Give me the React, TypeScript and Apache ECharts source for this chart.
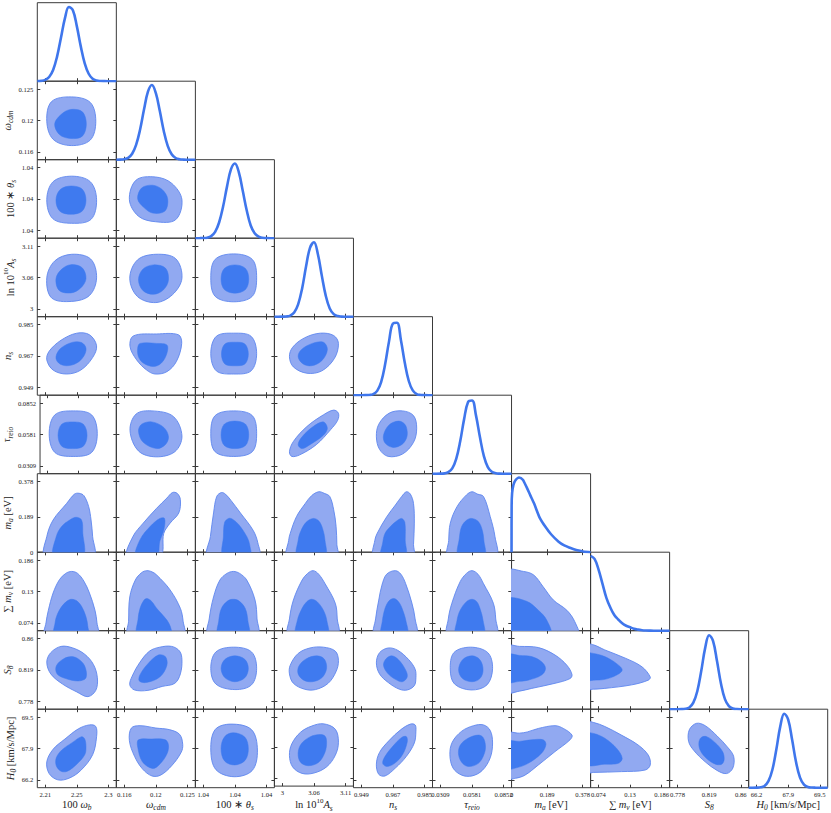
import React, { useEffect, useRef } from "react";
import * as echarts from "echarts";

// ---------------- parameters ----------------
const PARAM_NAMES = [
  "{r|100 }{i|ω}{sub|b}",
  "{i|ω}{sub|cdm}",
  "{r|100 ∗ }{i|θ}{sub|s}",
  "{r|ln 10}{sup|10}{i|A}{sub|s}",
  "{i|n}{sub|s}",
  "{i|τ}{sub|reio}",
  "{i|m}{sub|a}{r| [eV]}",
  "{r|∑ }{i|m}{sub|ν}{r| [eV]}",
  "{i|S}{sub|8}",
  "{i|H}{sub|0}{r| [km/s/Mpc]}",
];
const AXIS_MIN = [2.19625, 0.1149, 1.04115, 2.98725, 0.9445, 0.0241, 0, 0.06, 0.76775, 65.7875];
const AXIS_MAX = [2.30875, 0.1259, 1.04265, 3.12475, 0.9895, 0.0921, 0.42, 0.2, 0.87025, 69.9125];
const TICK_VALUES = [
  [2.2075, 2.2525, 2.2975],
  [0.116, 0.1204, 0.1248],
  [1.0413, 1.0419, 1.0425],
  [3.001, 3.056, 3.111],
  [0.949, 0.967, 0.985],
  [0.0309, 0.0581, 0.0853],
  [0, 0.189, 0.378],
  [0.074, 0.13, 0.186],
  [0.778, 0.819, 0.86],
  [66.2, 67.85, 69.5],
];
const TICK_LABELS = [
  ["2.21", "2.25", "2.3"],
  ["0.116", "0.12", "0.125"],
  ["1.04", "1.04", "1.04"],
  ["3", "3.06", "3.11"],
  ["0.949", "0.967", "0.985"],
  ["0.0309", "0.0581", "0.0852"],
  ["0", "0.189", "0.378"],
  ["0.074", "0.13", "0.186"],
  ["0.778", "0.819", "0.86"],
  ["66.2", "67.9", "69.5"],
];

// ---------------- 1D marginal densities (21 evenly spaced samples over each axis range) ----------------
const D_OMEGA_B = [0.0008, 0.0042, 0.017, 0.056, 0.15, 0.329, 0.585, 0.844, 0.992, 0.948, 0.737, 0.466, 0.239, 0.1, 0.034, 0.0094, 0.0021, 0.0004, 0, 0, 0];
const D_OMEGA_CDM = [0.0002, 0.0014, 0.0067, 0.025, 0.079, 0.198, 0.4, 0.67, 0.91, 1.0, 0.89, 0.65, 0.385, 0.185, 0.073, 0.023, 0.006, 0.0013, 0.0002, 0, 0];
const D_THETA_S = [0, 0.0003, 0.0017, 0.0075, 0.028, 0.085, 0.21, 0.42, 0.69, 0.92, 1.0, 0.88, 0.63, 0.37, 0.17, 0.067, 0.021, 0.0053, 0.001, 0, 0];
const D_LN_AS = [0, 0, 0.0005, 0.003, 0.015, 0.056, 0.165, 0.375, 0.67, 0.92, 0.995, 0.835, 0.546, 0.278, 0.11, 0.034, 0.008, 0.0015, 0.0002, 0, 0];
const D_NS = [0, 0, 0, 0.0004, 0.0027, 0.014, 0.058, 0.176, 0.41, 0.72, 0.96, 0.97, 0.74, 0.43, 0.19, 0.064, 0.016, 0.003, 0.0004, 0, 0];
const D_TAU = [0, 0, 0.0007, 0.0045, 0.02, 0.071, 0.198, 0.43, 0.73, 0.96, 0.98, 0.78, 0.49, 0.235, 0.089, 0.026, 0.006, 0.001, 0, 0, 0];
const D_SUM_MNU = [1.0, 0.96, 0.82, 0.63, 0.44, 0.31, 0.21, 0.15, 0.1, 0.066, 0.045, 0.025, 0.014, 0.007, 0.003, 0.001, 0, 0, 0, 0, 0];
const D_S8 = [0, 0, 0, 0.0008, 0.005, 0.024, 0.087, 0.24, 0.51, 0.82, 0.99, 0.91, 0.64, 0.34, 0.135, 0.041, 0.009, 0.0017, 0, 0, 0];
const D_H0 = [0, 0, 0.0008, 0.005, 0.024, 0.087, 0.24, 0.51, 0.82, 0.99, 0.91, 0.64, 0.34, 0.135, 0.041, 0.009, 0.0017, 0.0003, 0, 0, 0];
// m_a marginal (sampled at explicit m_a values, eV)
const MA_X = [0, 0.0005, 0.003, 0.01, 0.02, 0.04, 0.06, 0.08, 0.1, 0.12, 0.15, 0.18, 0.21, 0.25, 0.28, 0.31, 0.35, 0.38, 0.42];
const MA_D = [0, 0.62, 0.79, 0.9, 0.96, 1.0, 0.97, 0.87, 0.76, 0.65, 0.46, 0.34, 0.24, 0.14, 0.09, 0.06, 0.025, 0.01, 0];

// ---------------- 2D credible contours: [outer, inner], vertices as (x, y) in units of each
// parameter's plotted range (0 = axis minimum, 1 = axis maximum) ----------------
const C_OMEGA_CDM = [
  [[0.74, 0.49, 0.67, 0.73, 0.43, 0.8, 0.18, 0.74, 0.12, 0.49, 0.2, 0.26, 0.43, 0.18, 0.67, 0.25],
   [0.62, 0.455, 0.57, 0.61, 0.42, 0.64, 0.3, 0.575, 0.22, 0.455, 0.28, 0.32, 0.42, 0.27, 0.57, 0.3]],
];
const C_THETA_S = [
  [[0.75, 0.49, 0.67, 0.72, 0.435, 0.79, 0.2, 0.72, 0.12, 0.49, 0.195, 0.25, 0.435, 0.19, 0.68, 0.24],
   [0.616, 0.485, 0.567, 0.626, 0.426, 0.665, 0.29, 0.62, 0.236, 0.485, 0.285, 0.344, 0.426, 0.305, 0.567, 0.344]],
  [[0.83, 0.49, 0.7, 0.7, 0.494, 0.78, 0.25, 0.74, 0.165, 0.49, 0.28, 0.28, 0.494, 0.21, 0.75, 0.235],
   [0.65, 0.5, 0.58, 0.62, 0.46, 0.675, 0.32, 0.64, 0.27, 0.5, 0.35, 0.39, 0.46, 0.32, 0.615, 0.345]],
];
const C_LN_AS = [
  [[0.75, 0.495, 0.675, 0.735, 0.435, 0.795, 0.22, 0.71, 0.12, 0.495, 0.18, 0.24, 0.435, 0.195, 0.66, 0.27],
   [0.616, 0.483, 0.567, 0.624, 0.426, 0.663, 0.306, 0.603, 0.236, 0.483, 0.277, 0.334, 0.426, 0.303, 0.546, 0.363]],
  [[0.83, 0.49, 0.75, 0.74, 0.5, 0.795, 0.267, 0.723, 0.17, 0.49, 0.267, 0.257, 0.5, 0.18, 0.71, 0.28],
   [0.66, 0.47, 0.62, 0.62, 0.47, 0.66, 0.335, 0.605, 0.28, 0.47, 0.335, 0.335, 0.47, 0.285, 0.597, 0.343]],
  [[0.775, 0.495, 0.72, 0.73, 0.485, 0.8, 0.25, 0.73, 0.195, 0.495, 0.25, 0.26, 0.485, 0.19, 0.72, 0.26],
   [0.675, 0.48, 0.634, 0.614, 0.5, 0.66, 0.366, 0.614, 0.325, 0.48, 0.366, 0.346, 0.5, 0.3, 0.634, 0.346]],
];
const C_NS = [
  [[0.75, 0.63, 0.66, 0.77, 0.5, 0.79, 0.3, 0.7, 0.15, 0.56, 0.12, 0.45, 0.2, 0.32, 0.37, 0.27, 0.55, 0.32, 0.7, 0.48],
   [0.616, 0.6, 0.56, 0.67, 0.45, 0.675, 0.3, 0.6, 0.236, 0.49, 0.27, 0.41, 0.37, 0.375, 0.5, 0.41, 0.59, 0.5]],
  [[0.827, 0.66, 0.785, 0.77, 0.51, 0.78, 0.215, 0.755, 0.173, 0.62, 0.257, 0.45, 0.384, 0.32, 0.49, 0.27, 0.64, 0.3, 0.76, 0.43],
   [0.64, 0.64, 0.51, 0.66, 0.3, 0.66, 0.27, 0.6, 0.28, 0.49, 0.34, 0.41, 0.47, 0.365, 0.57, 0.41, 0.64, 0.535]],
  [[0.775, 0.53, 0.705, 0.75, 0.485, 0.79, 0.265, 0.75, 0.195, 0.53, 0.265, 0.31, 0.485, 0.27, 0.705, 0.31],
   [0.67, 0.525, 0.627, 0.652, 0.5, 0.675, 0.373, 0.652, 0.33, 0.525, 0.373, 0.398, 0.5, 0.375, 0.627, 0.398]],
  [[0.81, 0.66, 0.75, 0.76, 0.58, 0.79, 0.38, 0.73, 0.23, 0.61, 0.19, 0.49, 0.24, 0.36, 0.41, 0.28, 0.6, 0.31, 0.76, 0.47],
   [0.67, 0.58, 0.62, 0.675, 0.48, 0.66, 0.34, 0.58, 0.3, 0.49, 0.36, 0.4, 0.47, 0.375, 0.6, 0.44]],
];
const C_TAU = [
  [[0.75, 0.51, 0.675, 0.75, 0.435, 0.8, 0.195, 0.75, 0.12, 0.51, 0.195, 0.27, 0.435, 0.22, 0.675, 0.27],
   [0.616, 0.49, 0.567, 0.63, 0.426, 0.66, 0.285, 0.63, 0.236, 0.49, 0.285, 0.35, 0.426, 0.32, 0.567, 0.35]],
  [[0.83, 0.48, 0.72, 0.73, 0.45, 0.8, 0.25, 0.76, 0.173, 0.55, 0.28, 0.29, 0.5, 0.215, 0.74, 0.28],
   [0.66, 0.47, 0.6, 0.59, 0.45, 0.66, 0.32, 0.63, 0.28, 0.54, 0.34, 0.4, 0.51, 0.32, 0.62, 0.37]],
  [[0.775, 0.51, 0.72, 0.74, 0.485, 0.8, 0.25, 0.74, 0.195, 0.51, 0.25, 0.28, 0.485, 0.22, 0.72, 0.28],
   [0.675, 0.495, 0.634, 0.63, 0.5, 0.67, 0.366, 0.63, 0.325, 0.495, 0.366, 0.36, 0.5, 0.32, 0.634, 0.36]],
  [[0.81, 0.77, 0.75, 0.81, 0.62, 0.75, 0.41, 0.6, 0.24, 0.41, 0.19, 0.28, 0.22, 0.22, 0.32, 0.24, 0.53, 0.37, 0.71, 0.56, 0.8, 0.68],
   [0.67, 0.58, 0.62, 0.66, 0.49, 0.6, 0.35, 0.47, 0.3, 0.37, 0.35, 0.32, 0.45, 0.37, 0.62, 0.49]],
  [[0.8, 0.58, 0.76, 0.74, 0.62, 0.8, 0.45, 0.77, 0.32, 0.63, 0.29, 0.47, 0.33, 0.31, 0.44, 0.22, 0.62, 0.25, 0.76, 0.4],
   [0.68, 0.54, 0.65, 0.63, 0.57, 0.67, 0.45, 0.62, 0.38, 0.49, 0.4, 0.39, 0.5, 0.335, 0.61, 0.37, 0.67, 0.45]],
];
const C_MA = [
  [[0.1, -0.05, 0.12, 0.2, 0.2, 0.41, 0.37, 0.62, 0.47, 0.74, 0.53, 0.75, 0.59, 0.72, 0.65, 0.58, 0.68, 0.41, 0.7, 0.2, 0.71, -0.05],
   [0.21, -0.05, 0.24, 0.2, 0.31, 0.33, 0.41, 0.41, 0.49, 0.445, 0.56, 0.41, 0.575, 0.25, 0.575, -0.05]],
  [[0.14, -0.05, 0.21, 0.2, 0.34, 0.37, 0.51, 0.56, 0.64, 0.69, 0.71, 0.76, 0.77, 0.75, 0.81, 0.67, 0.79, 0.5, 0.68, 0.37, 0.6, 0.24, 0.555, -0.05],
   [0.25, -0.05, 0.3, 0.16, 0.43, 0.33, 0.55, 0.43, 0.61, 0.43, 0.6, 0.28, 0.55, 0.14, 0.51, -0.05]],
  [[0.16, -0.05, 0.19, 0.2, 0.23, 0.5, 0.27, 0.71, 0.33, 0.76, 0.38, 0.74, 0.45, 0.66, 0.57, 0.5, 0.73, 0.28, 0.79, 0.12, 0.8, -0.05],
   [0.355, -0.05, 0.355, 0.2, 0.37, 0.38, 0.42, 0.43, 0.47, 0.42, 0.55, 0.35, 0.65, 0.2, 0.69, 0.08, 0.69, -0.05]],
  [[0.165, -0.05, 0.18, 0.15, 0.2, 0.24, 0.28, 0.455, 0.39, 0.62, 0.47, 0.72, 0.56, 0.77, 0.63, 0.75, 0.7, 0.71, 0.75, 0.54, 0.78, 0.33, 0.79, 0.1, 0.79, -0.05],
   [0.29, -0.05, 0.3, 0.15, 0.33, 0.26, 0.4, 0.38, 0.49, 0.43, 0.56, 0.4, 0.61, 0.3, 0.64, 0.15, 0.64, -0.05]],
  [[0.26, -0.05, 0.27, 0.15, 0.3, 0.24, 0.42, 0.45, 0.53, 0.6, 0.61, 0.71, 0.67, 0.77, 0.72, 0.74, 0.76, 0.62, 0.77, 0.37, 0.76, 0.1, 0.755, -0.05],
   [0.355, -0.05, 0.37, 0.12, 0.4, 0.24, 0.47, 0.33, 0.55, 0.4, 0.61, 0.43, 0.65, 0.38, 0.655, 0.15, 0.655, -0.05]],
  [[0.2, -0.05, 0.205, 0.15, 0.225, 0.37, 0.31, 0.58, 0.43, 0.73, 0.5, 0.77, 0.57, 0.74, 0.645, 0.71, 0.73, 0.455, 0.79, 0.2, 0.8, -0.05],
   [0.33, -0.05, 0.34, 0.18, 0.37, 0.33, 0.435, 0.41, 0.5, 0.43, 0.58, 0.39, 0.63, 0.28, 0.65, 0.15, 0.655, -0.05]],
];
const C_SUM_MNU = [
  [[0.1, -0.05, 0.11, 0.1, 0.14, 0.26, 0.2, 0.48, 0.28, 0.65, 0.36, 0.73, 0.435, 0.755, 0.51, 0.73, 0.59, 0.63, 0.66, 0.48, 0.73, 0.26, 0.755, 0.1, 0.76, -0.05],
   [0.22, -0.05, 0.225, 0.1, 0.25, 0.2, 0.31, 0.31, 0.38, 0.38, 0.435, 0.4, 0.5, 0.38, 0.56, 0.31, 0.615, 0.18, 0.64, 0.05, 0.64, -0.05]],
  [[0.15, -0.05, 0.155, 0.12, 0.17, 0.43, 0.24, 0.645, 0.32, 0.74, 0.385, 0.765, 0.45, 0.75, 0.51, 0.71, 0.68, 0.52, 0.81, 0.285, 0.845, 0.12, 0.85, -0.05],
   [0.27, -0.05, 0.275, 0.15, 0.3, 0.285, 0.35, 0.39, 0.39, 0.41, 0.45, 0.37, 0.51, 0.285, 0.64, 0.135, 0.69, 0.03, 0.69, -0.05]],
  [[0.165, -0.05, 0.175, 0.15, 0.23, 0.43, 0.31, 0.645, 0.4, 0.73, 0.48, 0.755, 0.56, 0.73, 0.65, 0.645, 0.755, 0.39, 0.78, 0.15, 0.785, -0.05],
   [0.29, -0.05, 0.295, 0.12, 0.33, 0.285, 0.41, 0.38, 0.48, 0.4, 0.55, 0.38, 0.63, 0.285, 0.665, 0.12, 0.67, -0.05]],
  [[0.18, -0.05, 0.19, 0.15, 0.24, 0.39, 0.35, 0.645, 0.42, 0.73, 0.49, 0.765, 0.56, 0.72, 0.64, 0.6, 0.77, 0.35, 0.795, 0.15, 0.8, -0.05],
   [0.28, -0.05, 0.29, 0.13, 0.35, 0.285, 0.41, 0.37, 0.47, 0.4, 0.54, 0.37, 0.62, 0.26, 0.665, 0.12, 0.67, -0.05]],
  [[0.27, -0.05, 0.28, 0.15, 0.32, 0.39, 0.36, 0.58, 0.42, 0.72, 0.53, 0.765, 0.6, 0.72, 0.66, 0.6, 0.74, 0.35, 0.78, 0.15, 0.79, -0.05],
   [0.36, -0.05, 0.365, 0.12, 0.4, 0.285, 0.45, 0.38, 0.51, 0.41, 0.57, 0.37, 0.615, 0.285, 0.665, 0.12, 0.675, -0.05]],
  [[0.195, -0.05, 0.2, 0.15, 0.245, 0.35, 0.35, 0.625, 0.43, 0.73, 0.5, 0.765, 0.575, 0.72, 0.645, 0.6, 0.77, 0.35, 0.8, 0.15, 0.805, -0.05],
   [0.3, -0.05, 0.31, 0.13, 0.35, 0.26, 0.43, 0.37, 0.5, 0.4, 0.56, 0.37, 0.6, 0.285, 0.64, 0.13, 0.645, -0.05]],
  [[-0.05, -0.05, -0.05, 0.76, 0.15, 0.755, 0.28, 0.71, 0.4, 0.56, 0.53, 0.39, 0.7, 0.26, 0.8, 0.115, 0.835, -0.05],
   [-0.05, -0.05, -0.05, 0.4, 0.19, 0.375, 0.34, 0.26, 0.445, 0.135, 0.49, -0.05]],
];
const C_S8 = [
  [[0.76, 0.4, 0.71, 0.57, 0.6, 0.7, 0.45, 0.78, 0.3, 0.8, 0.17, 0.72, 0.12, 0.6, 0.17, 0.45, 0.32, 0.32, 0.5, 0.22, 0.64, 0.16, 0.74, 0.24],
   [0.616, 0.4, 0.6, 0.55, 0.52, 0.64, 0.435, 0.67, 0.33, 0.64, 0.24, 0.55, 0.25, 0.45, 0.36, 0.39, 0.52, 0.36]],
  [[0.83, 0.63, 0.8, 0.74, 0.7, 0.8, 0.55, 0.79, 0.42, 0.74, 0.3, 0.6, 0.2, 0.42, 0.17, 0.31, 0.23, 0.245, 0.4, 0.24, 0.58, 0.29, 0.74, 0.33, 0.81, 0.45],
   [0.64, 0.56, 0.62, 0.67, 0.53, 0.69, 0.4, 0.58, 0.3, 0.44, 0.29, 0.36, 0.38, 0.34, 0.55, 0.41]],
  [[0.775, 0.52, 0.71, 0.73, 0.485, 0.79, 0.26, 0.73, 0.195, 0.52, 0.26, 0.32, 0.5, 0.25, 0.71, 0.31],
   [0.67, 0.52, 0.625, 0.635, 0.5, 0.68, 0.375, 0.635, 0.325, 0.52, 0.375, 0.4, 0.5, 0.35, 0.625, 0.4]],
  [[0.81, 0.62, 0.77, 0.74, 0.62, 0.79, 0.45, 0.78, 0.3, 0.71, 0.2, 0.56, 0.19, 0.45, 0.24, 0.33, 0.38, 0.255, 0.52, 0.25, 0.68, 0.33, 0.78, 0.48],
   [0.66, 0.52, 0.63, 0.64, 0.535, 0.68, 0.4, 0.64, 0.31, 0.55, 0.3, 0.45, 0.37, 0.37, 0.48, 0.35, 0.6, 0.4]],
  [[0.79, 0.4, 0.78, 0.51, 0.7, 0.63, 0.56, 0.75, 0.44, 0.78, 0.33, 0.72, 0.29, 0.59, 0.33, 0.45, 0.44, 0.34, 0.58, 0.255, 0.68, 0.245, 0.77, 0.3],
   [0.68, 0.41, 0.66, 0.5, 0.57, 0.63, 0.485, 0.68, 0.41, 0.64, 0.38, 0.56, 0.43, 0.46, 0.53, 0.38, 0.62, 0.35]],
  [[0.76, 0.52, 0.7, 0.72, 0.48, 0.79, 0.27, 0.72, 0.225, 0.5, 0.28, 0.32, 0.49, 0.245, 0.69, 0.31],
   [0.64, 0.5, 0.6, 0.63, 0.5, 0.68, 0.38, 0.63, 0.33, 0.5, 0.38, 0.39, 0.5, 0.35, 0.6, 0.39]],
  [[-0.05, 0.8, 0.1, 0.8, 0.34, 0.785, 0.55, 0.69, 0.7, 0.56, 0.765, 0.44, 0.74, 0.39, 0.55, 0.33, 0.255, 0.265, 0.1, 0.23, -0.05, 0.22],
   [-0.05, 0.69, 0.1, 0.685, 0.255, 0.67, 0.38, 0.605, 0.43, 0.52, 0.38, 0.435, 0.21, 0.37, 0.1, 0.355, -0.05, 0.35]],
  [[-0.05, 0.82, 0.036, 0.82, 0.18, 0.755, 0.44, 0.65, 0.65, 0.54, 0.755, 0.41, 0.73, 0.37, 0.52, 0.31, 0.18, 0.265, 0.036, 0.255, -0.05, 0.255],
   [-0.05, 0.71, 0.036, 0.71, 0.18, 0.67, 0.33, 0.58, 0.4, 0.5, 0.33, 0.435, 0.18, 0.38, 0.036, 0.37, -0.05, 0.37]],
];
const C_H0 = [
  [[0.75, 0.65, 0.74, 0.78, 0.66, 0.8, 0.52, 0.75, 0.35, 0.62, 0.2, 0.49, 0.12, 0.33, 0.15, 0.18, 0.26, 0.1, 0.4, 0.12, 0.55, 0.22, 0.7, 0.42],
   [0.616, 0.52, 0.6, 0.62, 0.56, 0.65, 0.45, 0.58, 0.31, 0.48, 0.24, 0.38, 0.24, 0.28, 0.3, 0.21, 0.38, 0.21, 0.5, 0.3, 0.6, 0.42]],
  [[0.84, 0.55, 0.8, 0.68, 0.67, 0.74, 0.5, 0.76, 0.3, 0.79, 0.19, 0.76, 0.165, 0.6, 0.23, 0.4, 0.33, 0.24, 0.45, 0.15, 0.56, 0.16, 0.7, 0.28, 0.82, 0.45],
   [0.66, 0.54, 0.62, 0.61, 0.45, 0.62, 0.28, 0.61, 0.27, 0.52, 0.33, 0.33, 0.46, 0.245, 0.55, 0.3, 0.64, 0.43]],
  [[0.785, 0.48, 0.71, 0.74, 0.45, 0.81, 0.25, 0.74, 0.195, 0.48, 0.26, 0.23, 0.49, 0.14, 0.72, 0.22],
   [0.67, 0.5, 0.625, 0.645, 0.48, 0.7, 0.37, 0.65, 0.325, 0.5, 0.37, 0.34, 0.5, 0.29, 0.63, 0.35]],
  [[0.81, 0.57, 0.77, 0.74, 0.62, 0.81, 0.47, 0.78, 0.33, 0.7, 0.22, 0.55, 0.19, 0.4, 0.23, 0.25, 0.35, 0.165, 0.5, 0.17, 0.66, 0.25, 0.77, 0.4],
   [0.66, 0.57, 0.64, 0.65, 0.57, 0.67, 0.45, 0.64, 0.34, 0.55, 0.3, 0.43, 0.33, 0.31, 0.43, 0.265, 0.56, 0.31, 0.64, 0.44]],
  [[0.79, 0.72, 0.78, 0.8, 0.72, 0.81, 0.6, 0.74, 0.45, 0.6, 0.33, 0.45, 0.29, 0.3, 0.32, 0.17, 0.4, 0.15, 0.53, 0.25, 0.67, 0.4, 0.77, 0.57],
   [0.68, 0.58, 0.67, 0.65, 0.61, 0.64, 0.5, 0.53, 0.4, 0.4, 0.37, 0.31, 0.42, 0.27, 0.52, 0.31, 0.62, 0.42]],
  [[0.76, 0.57, 0.73, 0.73, 0.645, 0.8, 0.52, 0.79, 0.37, 0.72, 0.25, 0.58, 0.22, 0.42, 0.26, 0.25, 0.37, 0.16, 0.5, 0.15, 0.63, 0.22, 0.73, 0.38],
   [0.67, 0.53, 0.64, 0.64, 0.58, 0.67, 0.45, 0.63, 0.35, 0.54, 0.33, 0.42, 0.38, 0.31, 0.46, 0.27, 0.58, 0.31, 0.65, 0.42]],
  [[-0.05, 0.69, 0.1, 0.695, 0.2, 0.71, 0.34, 0.755, 0.55, 0.79, 0.655, 0.755, 0.765, 0.67, 0.74, 0.61, 0.55, 0.46, 0.34, 0.29, 0.17, 0.16, 0.05, 0.12, -0.05, 0.12],
   [-0.05, 0.585, 0.1, 0.59, 0.255, 0.61, 0.4, 0.61, 0.435, 0.55, 0.38, 0.44, 0.21, 0.31, 0.05, 0.25, -0.05, 0.245]],
  [[-0.05, 0.835, 0.04, 0.83, 0.18, 0.78, 0.39, 0.67, 0.6, 0.545, 0.73, 0.415, 0.755, 0.29, 0.69, 0.225, 0.39, 0.205, 0.04, 0.195, -0.05, 0.195],
   [-0.05, 0.69, 0.04, 0.69, 0.18, 0.63, 0.33, 0.5, 0.4, 0.375, 0.35, 0.31, 0.18, 0.3, -0.05, 0.3]],
  [[0.34, 0.82, 0.45, 0.79, 0.6, 0.66, 0.73, 0.52, 0.81, 0.4, 0.8, 0.25, 0.72, 0.18, 0.6, 0.22, 0.45, 0.33, 0.31, 0.47, 0.24, 0.59, 0.25, 0.74],
   [0.4, 0.64, 0.47, 0.65, 0.58, 0.57, 0.67, 0.46, 0.69, 0.36, 0.66, 0.3, 0.58, 0.3, 0.47, 0.37, 0.39, 0.47, 0.37, 0.57]],
];

// ---------------- styling / layout ----------------
const N = 10;
const LEFT0 = 37.3;
const TOP0 = 2.7;
const PW = 79.04;
const PH = 78.5;
const LINE_COLOR = "#3f76ec";
const OUTER_FILL = "#91a9f1";
const OUTER_EDGE = "#5f87ee";
const INNER_FILL = "#3f7aef";
const FRAME = "#3a3a3a";
const TEXT = "#222";
const SERIF = "Liberation Serif";

const RICH = {
  r: { fontFamily: SERIF, fontSize: 10.5, lineHeight: 15, color: TEXT },
  i: { fontFamily: SERIF, fontStyle: "italic", fontSize: 10.5, lineHeight: 15, color: TEXT },
  sub: { fontFamily: SERIF, fontStyle: "italic", fontSize: 7.5, lineHeight: 7, verticalAlign: "bottom", color: TEXT },
  sup: { fontFamily: SERIF, fontSize: 7, lineHeight: 8, verticalAlign: "top", color: TEXT },
};

const CONTOURS_BY_ROW: (number[][][] | null)[] = [
  null, C_OMEGA_CDM, C_THETA_S, C_LN_AS, C_NS, C_TAU, C_MA, C_SUM_MNU, C_S8, C_H0,
];
const DENSITIES: (number[] | null)[] = [
  D_OMEGA_B, D_OMEGA_CDM, D_THETA_S, D_LN_AS, D_NS, D_TAU, null, D_SUM_MNU, D_S8, D_H0,
];

const toVal = (p: number, f: number) => AXIS_MIN[p] + f * (AXIS_MAX[p] - AXIS_MIN[p]);

const labelFor = (p: number) => (v: number) => {
  const t = TICK_VALUES[p];
  let best = 0;
  for (let k = 1; k < t.length; k++) if (Math.abs(t[k] - v) < Math.abs(t[best] - v)) best = k;
  return TICK_LABELS[p][best];
};

function buildOption() {
  const grid: any[] = [];
  const xAxis: any[] = [];
  const yAxis: any[] = [];
  const series: any[] = [];

  const tick = (p: number) => ({
    show: true,
    inside: true,
    length: 3,
    customValues: TICK_VALUES[p],
    lineStyle: { color: FRAME, width: 1 },
  });

  for (let i = 0; i < N; i++) {
    for (let j = 0; j <= i; j++) {
      const g = grid.length;
      grid.push({
        left: LEFT0 + j * PW,
        top: TOP0 + i * PH,
        width: PW,
        height: PH,
        show: true,
        borderColor: FRAME,
        borderWidth: 1,
        backgroundColor: "transparent",
        containLabel: false,
      });
      const isDiag = i === j;
      const bottomRow = i === N - 1;
      const firstCol = j === 0 && i > 0;

      const xi = xAxis.length;
      xAxis.push({
        type: "value",
        gridIndex: g,
        position: "bottom",
        min: AXIS_MIN[j],
        max: AXIS_MAX[j],
        axisLine: { show: false },
        splitLine: { show: false },
        axisTick: tick(j),
        axisLabel: {
          show: bottomRow,
          customValues: TICK_VALUES[j],
          formatter: labelFor(j),
          fontFamily: SERIF,
          fontSize: 6.6,
          color: TEXT,
          margin: 3,
        },
        name: bottomRow ? PARAM_NAMES[j] : "",
        nameLocation: "middle",
        nameGap: 8,
        nameTextStyle: { rich: RICH, verticalAlign: "top" },
      });
      const yi = yAxis.length;
      yAxis.push({
        type: "value",
        gridIndex: g,
        position: "left",
        min: isDiag ? 0 : AXIS_MIN[i],
        max: isDiag ? 1.05 : AXIS_MAX[i],
        axisLine: { show: false },
        splitLine: { show: false },
        axisTick: isDiag ? { show: false } : tick(i),
        axisLabel: isDiag
          ? { show: false }
          : {
              show: firstCol,
              customValues: TICK_VALUES[i],
              formatter: labelFor(i),
              fontFamily: SERIF,
              fontSize: 6.6,
              color: TEXT,
              margin: 4,
            },
        name: firstCol ? PARAM_NAMES[i] : "",
        nameLocation: "middle",
        nameGap: 15,
        nameRotate: 90,
        nameTextStyle: { rich: RICH },
      });

      if (!isDiag) {
        xAxis.push({
          type: "value",
          gridIndex: g,
          position: "top",
          min: AXIS_MIN[j],
          max: AXIS_MAX[j],
          axisLine: { show: false },
          splitLine: { show: false },
          axisTick: tick(j),
          axisLabel: { show: false },
        });
        yAxis.push({
          type: "value",
          gridIndex: g,
          position: "right",
          min: AXIS_MIN[i],
          max: AXIS_MAX[i],
          axisLine: { show: false },
          splitLine: { show: false },
          axisTick: tick(i),
          axisLabel: { show: false },
        });

        const cont = (CONTOURS_BY_ROW[i] as number[][][])[j];
        const px = j;
        const py = i;
        series.push({
          type: "custom",
          xAxisIndex: xi,
          yAxisIndex: yi,
          clip: true,
          silent: true,
          data: [
            [AXIS_MIN[px], AXIS_MIN[py]],
            [AXIS_MIN[px], AXIS_MIN[py]],
          ],
          renderItem: (params: any, api: any) => {
            const k = params.dataIndex;
            const flat = cont[k];
            const pts: number[][] = [];
            for (let m = 0; m < flat.length; m += 2) {
              pts.push(api.coord([toVal(px, flat[m]), toVal(py, flat[m + 1])]));
            }
            return {
              type: "polygon",
              shape: { points: pts, smooth: 0.35 },
              style:
                k === 0
                  ? { fill: OUTER_FILL, stroke: OUTER_EDGE, lineWidth: 0.9 }
                  : { fill: INNER_FILL, stroke: INNER_FILL, lineWidth: 0.5 },
            };
          },
        });
      } else {
        let data: number[][];
        const dens = DENSITIES[i];
        if (dens) {
          data = dens.map((d, k) => [toVal(i, k / (dens.length - 1)), d]);
        } else {
          data = MA_X.map((x, k) => [x, MA_D[k]]);
        }
        series.push({
          type: "line",
          xAxisIndex: xi,
          yAxisIndex: yi,
          data,
          symbol: "none",
          showSymbol: false,
          smooth: dens ? 0.4 : 0.25,
          silent: true,
          clip: true,
          lineStyle: { color: LINE_COLOR, width: 2.6 },
        });
      }
    }
  }

  return {
    animation: false,
    backgroundColor: "#ffffff",
    grid,
    xAxis,
    yAxis,
    series,
  };
}

export default function App() {
  const ref = useRef<HTMLDivElement>(null);
  useEffect(() => {
    if (!ref.current) return;
    const chart = echarts.init(ref.current, null, { renderer: "svg" });
    chart.setOption(buildOption() as any);
    return () => chart.dispose();
  }, []);
  return (
    <div
      ref={ref}
      style={{ position: "fixed", left: 0, top: 0, width: 831, height: 813, background: "#fff" }}
    />
  );
}
